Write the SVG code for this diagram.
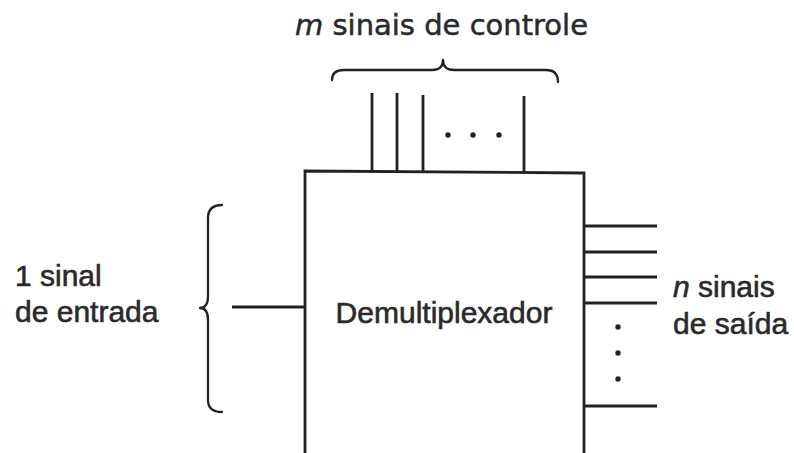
<svg xmlns="http://www.w3.org/2000/svg" width="794" height="453" viewBox="0 0 794 453">
<style>
.ln{stroke:#222;stroke-width:2.8;fill:none;stroke-linecap:butt}
.br{stroke:#222;stroke-width:2.3;fill:none;stroke-linecap:round;stroke-linejoin:round}
.dot{fill:#222}
.t{font-family:"Liberation Sans",Arial,sans-serif;font-size:30px;fill:#2a2a2a;stroke:#2a2a2a;stroke-width:0.6}
.tc{font-family:"DejaVu Sans",sans-serif;font-size:29px;fill:#2a2a2a;stroke:#2a2a2a;stroke-width:0.5}
</style>
<rect width="794" height="453" fill="#fff"/>
<g id="demux">
<path class="ln" d="M305,460 L305,171 L584,173 L584,460"/>
<text class="t" x="444" y="323" text-anchor="middle">Demultiplexador</text>
</g>
<g id="control-label">
<text class="tc" x="295" y="35"><tspan font-style="italic">m</tspan> sinais de controle</text>
<path class="br" d="M332,80 Q332,70 344,70 L432,70 Q443,70 443,60 Q443,70 454,70 L546,70 Q558,70 558,82"/>
</g>
<g id="input-label">
<text class="t" x="15" y="286">1 sinal</text>
<text class="t" x="15" y="322">de entrada</text>
<path class="br" d="M222,205 Q208,205 208,218 L208,296 Q208,308 200,308 Q208,308 208,320 L208,400 Q208,412 222,412"/>
</g>
<g id="output-label">
<text class="t" x="673" y="297"><tspan font-style="italic">n</tspan> sinais</text>
<text class="t" x="673" y="334">de saída</text>
</g>
<g id="connectors">
<line class="ln" x1="372" y1="93" x2="372" y2="172"/>
<line class="ln" x1="397" y1="93" x2="397" y2="172"/>
<line class="ln" x1="423" y1="95" x2="423" y2="172"/>
<line class="ln" x1="524" y1="96" x2="524" y2="173"/>
<circle class="dot" cx="448" cy="135" r="2.7"/>
<circle class="dot" cx="473" cy="135" r="2.7"/>
<circle class="dot" cx="499" cy="135" r="2.7"/>
<line class="ln" x1="232" y1="307" x2="305" y2="307"/>
<line class="ln" x1="584" y1="226" x2="657" y2="226"/>
<line class="ln" x1="584" y1="252" x2="657" y2="252"/>
<line class="ln" x1="584" y1="277" x2="657" y2="277"/>
<line class="ln" x1="584" y1="303" x2="657" y2="303"/>
<line class="ln" x1="584" y1="406" x2="657" y2="406"/>
<circle class="dot" cx="618" cy="327" r="2.7"/>
<circle class="dot" cx="618" cy="353" r="2.7"/>
<circle class="dot" cx="618" cy="379" r="2.7"/>
</g>
</svg>
